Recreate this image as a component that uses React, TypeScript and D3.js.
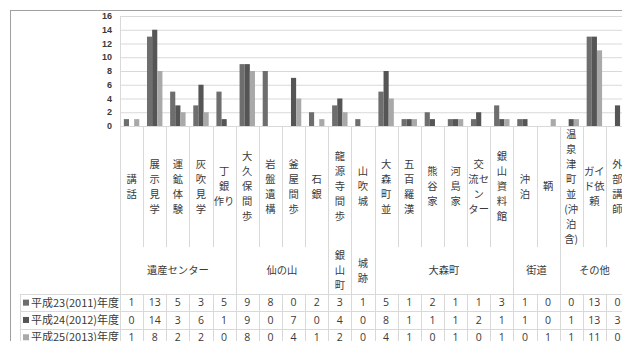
import React from 'react';
import * as d3 from 'd3';

const categories = ['講話', '展示見学', '運鉱体験', '灰吹見学', '丁銀作り', '大久保間歩', '岩盤遺構', '釜屋間歩', '石銀', '龍源寺間歩', '山吹城', '大森町並', '五百羅漢', '熊谷家', '河島家', '交流センター', '銀山資料館', '沖泊', '鞆', '温泉津町並(沖泊含)', 'ガイド依頼', '外部講師'];
const categoryLines = [
  ['講', '話'], ['展', '示', '見', '学'], ['運', '鉱', '体', '験'], ['灰', '吹', '見', '学'], ['丁', '銀', '作り'],
  ['大', '久', '保', '間', '歩'], ['岩', '盤', '遺', '構'], ['釜', '屋', '間', '歩'], ['石', '銀'], ['龍', '源', '寺', '間', '歩'],
  ['山', '吹', '城'], ['大', '森', '町', '並'], ['五', '百', '羅', '漢'], ['熊', '谷', '家'], ['河', '島', '家'],
  ['交', '流セ', 'ン', 'ター'], ['銀', '山', '資', '料', '館'], ['沖', '泊'], ['鞆'],
  ['温', '泉', '津', '町', '並', '(沖', '泊', '含)'], ['ガイ', 'ド依', '頼'], ['外', '部', '講', '師'],
];
const groupNames = ['遺産センター', '仙の山', '銀山町', '城跡', '大森町', '街道', 'その他'];
const groupSizes = [5, 4, 1, 1, 6, 2, 3];
const groupLines = [['遺産センター'], ['仙の山'], ['銀', '山', '町'], ['城', '跡'], ['大森町'], ['街道'], ['その他']];

const seriesNames = ['平成23(2011)年度', '平成24(2012)年度', '平成25(2013)年度'];
const s2011 = [1, 13, 5, 3, 5, 9, 8, 0, 2, 3, 1, 5, 1, 2, 1, 1, 3, 1, 0, 0, 13, 0];
const s2012 = [0, 14, 3, 6, 1, 9, 0, 7, 0, 4, 0, 8, 1, 1, 1, 2, 1, 1, 0, 1, 13, 3];
const s2013 = [1, 8, 2, 2, 0, 8, 0, 4, 1, 2, 0, 4, 1, 0, 1, 0, 1, 0, 1, 1, 11, 0];
const seriesValues = [s2011, s2012, s2013];
const seriesColors = ['#6e6e6e', '#555555', '#a9a9a9'];
const yTicks = [0, 2, 4, 6, 8, 10, 12, 14, 16];

export default function App() {
  const W = 622, H = 341;
  const left = 120;
  const catW = 23.14;
  const right = left + catW * categories.length;
  const plotTop = 16, plotBottom = 126;
  const catLabelBottom = 247;
  const tableTop = 294;
  const rowH = 17.3;
  const tableLeft = 20;

  const x0 = d3.scaleBand<string>().domain(categories).range([left, right]).padding(0);
  const x1 = d3.scaleBand<number>().domain([0, 1, 2]).range([catW / 6, catW * 5 / 6]).padding(0);
  const y = d3.scaleLinear().domain([0, 16]).range([plotBottom, plotTop]);

  const textColor = '#3a3a3a';
  const gridColor = '#d9d9d9';
  const font = '"Noto Sans CJK JP", sans-serif';

  const boundaries: number[] = [];
  let acc = 0;
  groupSizes.forEach((s) => { boundaries.push(acc); acc += s; });
  boundaries.push(acc);

  const catCenter = (i: number) => (x0(categories[i]) as number) + catW / 2;
  const catLabelMid = (plotBottom + catLabelBottom) / 2;
  const groupMid = (catLabelBottom + tableTop) / 2;
  const pitch = 15;
  const labelSize = 10.3;

  return (
    <svg width={W} height={H} style={{ position: 'absolute', left: 0, top: 0, background: '#fff' }}>
      <rect x={0} y={0} width={W} height={H} fill="#fff" />
      <rect x={10.5} y={10.5} width={W + 20} height={H + 20} fill="none" stroke="#a0a0a0" />
      {yTicks.map((t) => (
        <line key={'g' + t} x1={left} x2={right} y1={y(t) + 0.5} y2={y(t) + 0.5} stroke={gridColor} />
      ))}
      <line x1={left + 0.5} x2={left + 0.5} y1={plotTop} y2={plotBottom} stroke={gridColor} />
      {yTicks.map((t) => (
        <text key={'yt' + t} x={112} y={y(t)} dy="0.35em" textAnchor="end" fontFamily='"Liberation Sans", sans-serif' fontWeight="bold" fontSize={9} fill={textColor}>{t}</text>
      ))}
      {seriesValues.map((vals, s) => vals.map((v, i) => (
        v > 0 ? (
          <rect key={`b${s}-${i}`} x={(x0(categories[i]) as number) + (x1(s) as number)} y={y(v)} width={x1.bandwidth()} height={plotBottom - y(v)} fill={seriesColors[s]} />
        ) : null
      )))}
      {d3.range(categories.length + 1).map((i) => {
        const xx = Math.round(left + i * catW) + 0.5;
        const isGroup = boundaries.includes(i);
        return (
          <g key={'sep' + i}>
            <line x1={xx} x2={xx} y1={plotBottom} y2={isGroup ? H : catLabelBottom} stroke={gridColor} />
            {!isGroup && <line x1={xx} x2={xx} y1={tableTop} y2={H} stroke={gridColor} />}
          </g>
        );
      })}
      {categoryLines.map((lines, i) => {
        const start = catLabelMid - ((lines.length - 1) * pitch) / 2;
        return lines.map((ln, k) => (
          <text key={`cl${i}-${k}`} x={catCenter(i)} y={start + k * pitch} dy="0.35em" fontFamily={font} fontSize={labelSize} fill={textColor} textAnchor="middle">{ln}</text>
        ));
      })}
      {groupLines.map((lines, g) => {
        const cx = left + ((boundaries[g] + boundaries[g + 1]) / 2) * catW;
        const start = groupMid - ((lines.length - 1) * pitch) / 2;
        return lines.map((ln, k) => (
          <text key={`gl${g}-${k}`} x={cx} y={start + k * pitch} dy="0.35em" fontFamily={font} fontSize={labelSize} fill={textColor} textAnchor="middle" data-name={groupNames[g]}>{ln}</text>
        ));
      })}
      {d3.range(4).map((r) => (
        <line key={'row' + r} x1={tableLeft} x2={right} y1={Math.round(tableTop + r * rowH) + 0.5} y2={Math.round(tableTop + r * rowH) + 0.5} stroke={gridColor} />
      ))}
      <line x1={tableLeft + 0.5} x2={tableLeft + 0.5} y1={tableTop} y2={H} stroke={gridColor} />
      {seriesNames.map((name, s) => {
        const cy = tableTop + s * rowH + rowH / 2;
        return (
          <g key={'tr' + s}>
            <rect x={23} y={cy - 3} width={6} height={6} fill={seriesColors[s]} />
            <text x={31} y={cy} dy="0.35em" fontFamily={font} fontSize={11} fill={textColor}>{name}</text>
            {seriesValues[s].map((v, i) => (
              <text key={i} x={catCenter(i)} y={cy} dy="0.35em" textAnchor="middle" fontFamily='"Open Sans", sans-serif' fontSize={10.5} fill={textColor}>{v}</text>
            ))}
          </g>
        );
      })}
    </svg>
  );
}
